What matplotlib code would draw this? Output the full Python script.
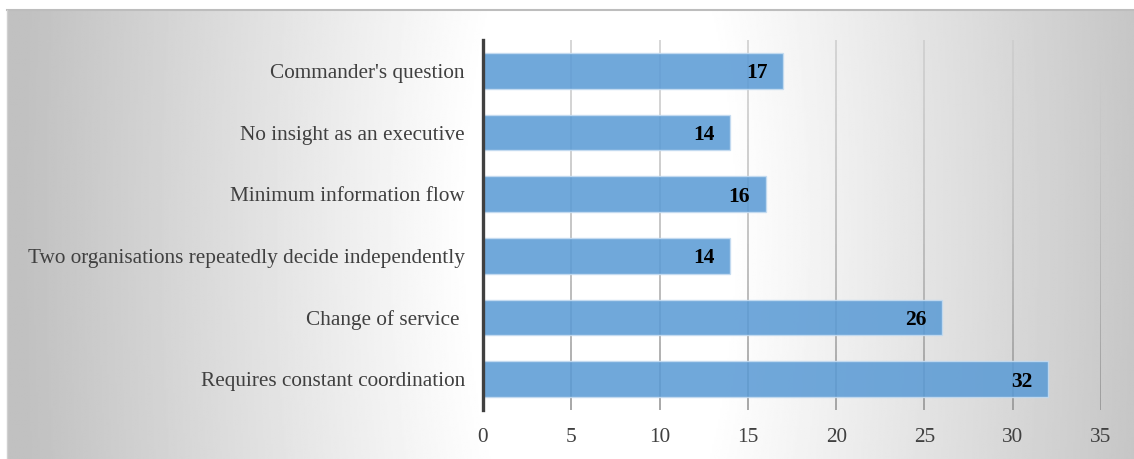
import numpy as np
import matplotlib
matplotlib.use("Agg")
import matplotlib.pyplot as plt
from matplotlib.collections import LineCollection
import matplotlib.transforms as mtransforms

# Data (top to bottom)
categories = [
    "Commander's question",
    "No insight as an executive",
    "Minimum information flow",
    "Two organisations repeatedly decide independently",
    "Change of service ",
    "Requires constant coordination",
]
counts = [17, 14, 16, 14, 26, 32]
x_ticks = [0, 5, 10, 15, 20, 25, 30, 35]

W, H = 1134, 459
fig = plt.figure(figsize=(W / 100, H / 100), dpi=100)
fig.patch.set_facecolor("white")

# Background panel with a soft grey-white-grey gradient
bg = fig.add_axes([7 / W, 0, 1 - 7 / W, 449 / H], zorder=0)
xs = np.linspace(7, W, 600)
ys = np.linspace(10, H, 250)
X, Y = np.meshgrid(xs, ys)
d = np.sqrt((X - 600) ** 2 + ((Y - 230) * 0.35) ** 2)
t = np.clip((d - 130) / 450, 0, 1)
shade = 1 - 0.245 * t
bg.imshow(shade, cmap="gray", vmin=0, vmax=1, aspect="auto",
          extent=[7, W, H, 10], interpolation="bilinear")
bg.set_xlim(7, W)
bg.set_ylim(H, 10)
bg.axis("off")
fig.add_artist(plt.Line2D([7 / W, 1], [449 / H, 449 / H], color="#bdbdbd",
                          lw=1.5, transform=fig.transFigure))
fig.add_artist(plt.Line2D([7 / W, 7 / W], [0, 449 / H], color="#d0d0d0",
                          lw=1.0, transform=fig.transFigure))

# Main plotting area
left, right, top, bottom = 483, 1101, 40, 410
ax = fig.add_axes([left / W, 1 - bottom / H, (right - left) / W, (bottom - top) / H],
                  zorder=1)
ax.set_facecolor("none")

ypos = np.arange(len(categories))
ax.set_xlim(0, 35)
ax.set_ylim(len(categories) - 0.5, -0.5)

# Vertical gridlines, lighter at the top and darker toward the axis
trans = mtransforms.blended_transform_factory(ax.transData, ax.transAxes)
nseg = 60
fr = np.linspace(1, 0, nseg + 1)
for xv in x_ticks[1:]:
    segs = [[(xv, fr[i]), (xv, fr[i + 1])] for i in range(nseg)]
    cols = []
    for i in range(nseg):
        f = (fr[i] + fr[i + 1]) / 2
        g = 0.80 - 0.24 * (1 - f) ** 1.5
        cols.append((g, g, g))
    lc = LineCollection(segs, colors=cols, linewidths=1.1, transform=trans, zorder=0.5)
    ax.add_collection(lc)

bars = ax.barh(ypos, counts, height=0.58, color="#5b9bd5", alpha=0.87,
               edgecolor="#c5dcf1", linewidth=1.0, zorder=2)

for yv, v in zip(ypos, counts):
    ax.annotate(str(v), xy=(v, yv), xytext=(-11, 0), textcoords="offset points",
                ha="right", va="center_baseline", fontsize=15.5, fontweight="bold",
                family="Liberation Serif", color="black", zorder=3)

ax.set_yticks(ypos)
ax.set_yticklabels(categories, family="Liberation Serif", fontsize=15.3, color="#404040")
ax.set_xticks(x_ticks)
ax.set_xticklabels([str(v) for v in x_ticks], family="Liberation Serif",
                   fontsize=15.3, color="#404040")
ax.tick_params(axis="y", length=0, pad=13)
ax.tick_params(axis="x", length=0, pad=13)

for s in ["top", "right", "bottom"]:
    ax.spines[s].set_visible(False)
ax.spines["left"].set_color("#404040")
ax.spines["left"].set_linewidth(2.4)
ax.spines["left"].set_zorder(4)

fig.savefig("out.png", dpi=100)
